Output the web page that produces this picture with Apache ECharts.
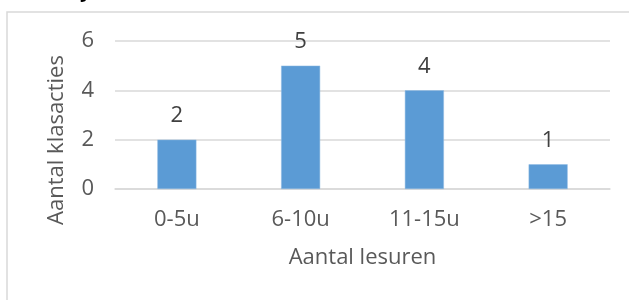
<!DOCTYPE html>
<html>
<head>
<meta charset="utf-8">
<script src="https://cdn.jsdelivr.net/npm/echarts@6/dist/echarts.min.js"></script>
<style>
  html, body { margin: 0; padding: 0; background: #fff; }
  #chart { width: 629px; height: 300px; }
</style>
</head>
<body>
<div id="chart"></div>
<script>
'use strict';

// gegevens uit de grafiek
var categories = ['0-5u', '6-10u', '11-15u', '>15'];
var klasacties = [2, 5, 4, 1];
var yTicks = [0, 2, 4, 6];

var myChart = echarts.init(document.getElementById('chart'));
var font = '"Open Sans", sans-serif';

var option = {
  animation: false,
  backgroundColor: '#ffffff',
  graphic: [
    {
      // kader rond het grafiekgebied
      type: 'rect',
      silent: true,
      shape: { x: 7, y: 12, width: 700, height: 400 },
      style: { fill: 'none', stroke: '#d9d9d9', lineWidth: 1.5 }
    },
    {
      // afgesneden titel erboven
      type: 'text',
      silent: true,
      left: 80,
      top: -19,
      style: { text: 'y', font: 'bold 20px ' + font, fill: '#000' }
    }
  ],
  grid: {
    left: 115,
    right: 19,
    top: 41,
    bottom: 111
  },
  xAxis: {
    type: 'category',
    data: categories,
    name: 'Aantal lesuren',
    nameLocation: 'middle',
    nameGap: 58,
    nameTextStyle: { color: '#595959', fontSize: 22, fontFamily: font },
    axisLine: { show: true, lineStyle: { color: '#d9d9d9', width: 1.5 } },
    axisTick: { show: false },
    axisLabel: { color: '#595959', fontSize: 22, fontFamily: font, margin: 20 }
  },
  yAxis: {
    type: 'value',
    min: yTicks[0],
    max: yTicks[yTicks.length - 1],
    interval: yTicks[1] - yTicks[0],
    name: 'Aantal klasacties',
    nameLocation: 'middle',
    nameGap: 47,
    nameTextStyle: { color: '#595959', fontSize: 22, fontFamily: font, padding: [0, 50, 0, 0] },
    axisLine: { show: false },
    axisTick: { show: false },
    axisLabel: { color: '#595959', fontSize: 22, fontFamily: font, margin: 21 },
    splitLine: { lineStyle: { color: '#d9d9d9', width: 1.5 } }
  },
  series: [{
    name: 'Aantal klasacties',
    type: 'bar',
    data: klasacties,
    barWidth: 39,
    itemStyle: { color: '#5b9bd5', borderColor: '#8fbbe3', borderWidth: 0.5 },
    label: {
      show: true,
      position: 'top',
      distance: 13,
      color: '#404040',
      fontSize: 22,
      fontFamily: font
    }
  }]
};

myChart.setOption(option);
</script>
</body>
</html>
